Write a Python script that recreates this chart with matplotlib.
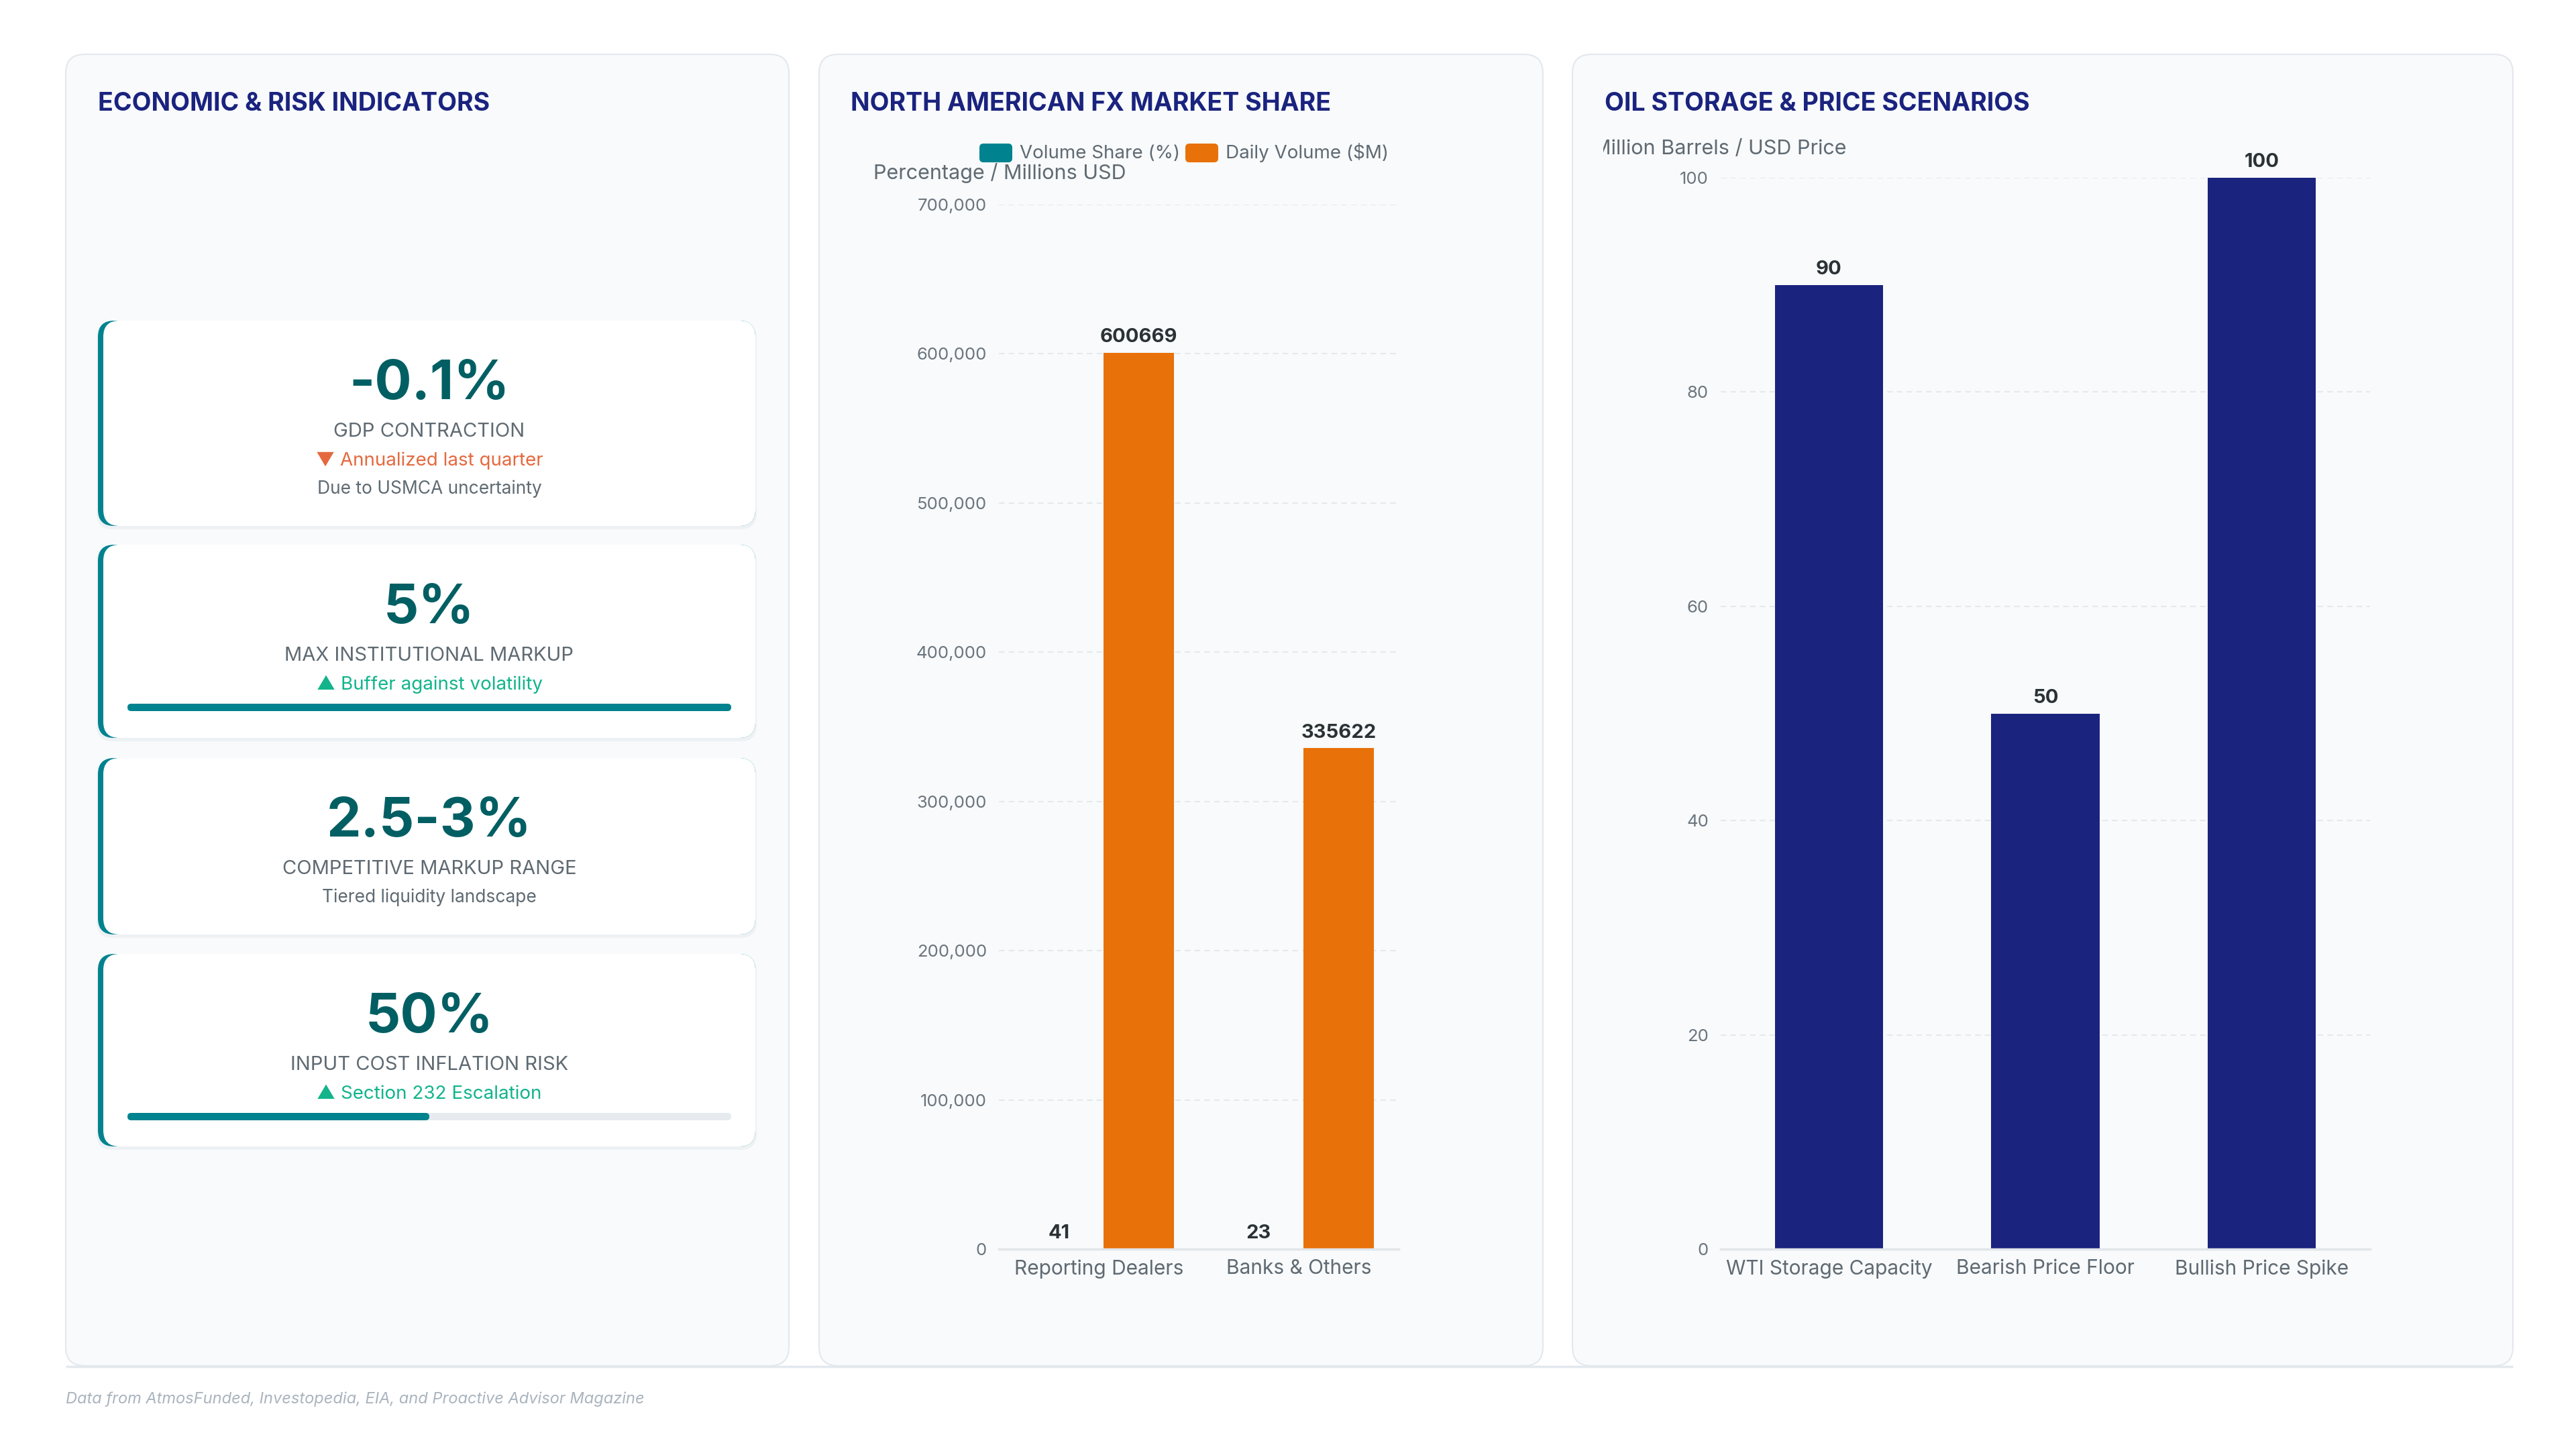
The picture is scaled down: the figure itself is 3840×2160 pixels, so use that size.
import matplotlib

matplotlib.use("Agg")
import matplotlib.pyplot as plt
from matplotlib.patches import FancyBboxPatch
from matplotlib.ticker import FuncFormatter
from matplotlib.transforms import Bbox
import numpy as np

plt.rcParams["font.family"] = ["Inter", "DejaVu Sans"]

# ---- data -----------------------------------------------------------------
KPI_VALUES = ["-0.1%", "5%", "2.5-3%", "50%"]
KPI_LABELS = ["GDP CONTRACTION", "MAX INSTITUTIONAL MARKUP",
              "COMPETITIVE MARKUP RANGE", "INPUT COST INFLATION RISK"]
KPI_NOTES = ["▼ Annualized last quarter", "▲ Buffer against volatility",
             None, "▲ Section 232 Escalation"]
KPI_NOTE_UP = [False, True, None, True]
KPI_SUBS = ["Due to USMCA uncertainty", None, "Tiered liquidity landscape", None]
KPI_PROGRESS = [None, 100, None, 50]

FX_CATEGORIES = ["Reporting Dealers", "Banks & Others"]
FX_SHARE = [41, 23]
FX_VOLUME = [600669, 335622]
FX_SERIES = ["Volume Share (%)", "Daily Volume ($M)"]

OIL_CATEGORIES = ["WTI Storage Capacity", "Bearish Price Floor", "Bullish Price Spike"]
OIL_VALUES = [90, 50, 100]

SOURCE = "Data from AtmosFunded, Investopedia, EIA, and Proactive Advisor Magazine"

# ---- style ----------------------------------------------------------------
W, H = 3840, 2160
NAVY = "#1a237e"
TEAL = "#00838f"
DARK_TEAL = "#015f63"
ORANGE = "#e8710a"
PANEL_BG = "#f8fafc"
BORDER = "#e3e8ee"
GRAY = "#5f6a72"
TICK_GRAY = "#6b757d"
RED = "#e4693f"
GREEN = "#12b48c"
VALUE_DARK = "#2b3236"


def rbox(ax, x0, y0, x1, y1, r, **kw):
    ax.add_patch(FancyBboxPatch((x0, y0), x1 - x0, y1 - y0,
                                boxstyle=f"round,pad=0,rounding_size={r}", **kw))


def fig_axes(fig, x0, y0, x1, y1):
    """Axes from a pixel box (top-left origin)."""
    return fig.add_axes([x0 / W, (H - y1) / H, (x1 - x0) / W, (y1 - y0) / H])


def style_axes(ax):
    ax.set_facecolor("none")
    for side in ("top", "right", "left"):
        ax.spines[side].set_visible(False)
    ax.spines["bottom"].set_color("#e2e6ea")
    ax.spines["bottom"].set_linewidth(2.5)
    ax.yaxis.grid(True, color="#e6e9ec", ls=(0, (4, 3)), lw=1.5)
    ax.set_axisbelow(True)
    ax.tick_params(axis="y", length=0, pad=13, labelsize=18.5, labelcolor=TICK_GRAY)
    ax.tick_params(axis="x", length=0, pad=11, labelsize=21.5, labelcolor=GRAY)


fig = plt.figure(figsize=(W / 100, H / 100), dpi=100, facecolor="white")
bg = fig.add_axes([0, 0, 1, 1])
bg.set_xlim(0, W)
bg.set_ylim(H, 0)
bg.axis("off")

# panels
panels = [(98, 81, 1176, 2036), (1221, 81, 2300, 2036), (2344, 81, 3746, 2036)]
for x0, y0, x1, y1 in panels:
    rbox(bg, x0, y0, x1, y1, 28, facecolor=PANEL_BG, edgecolor=BORDER, lw=1.5)
bg.plot([98, 3746], [2037, 2037], color=BORDER, lw=2.5, solid_capstyle="butt")

titles = ["ECONOMIC & RISK INDICATORS", "NORTH AMERICAN FX MARKET SHARE",
          "OIL STORAGE & PRICE SCENARIOS"]
for title, tx in zip(titles, [146, 1268, 2392]):
    bg.text(tx, 165, title, fontsize=27, weight="bold", color=NAVY, va="baseline")

# ---- KPI cards ------------------------------------------------------------
card_tops = [478, 812, 1130, 1422]
card_bottoms = [784, 1100, 1393, 1709]
cx0, cx1, cmid = 146, 1126, 640
for i, (top, bot) in enumerate(zip(card_tops, card_bottoms)):
    rbox(bg, cx0 - 2, top + 3, cx1 + 2, bot + 5, 24, facecolor="#eef1f4", lw=0)
    rbox(bg, cx0, top, cx1, bot, 24, facecolor=TEAL, lw=0)
    rbox(bg, cx0 + 8, top, cx1, bot, 24, facecolor="white", lw=0)
    bg.text(cmid, top + 117, KPI_VALUES[i], fontsize=59, weight="bold",
            color=DARK_TEAL, ha="center", va="baseline")
    bg.text(cmid, top + 173, KPI_LABELS[i], fontsize=21, color=GRAY,
            ha="center", va="baseline")
    y = top + 173
    if KPI_NOTES[i]:
        y += 43
        bg.text(cmid, y, KPI_NOTES[i], fontsize=20,
                color=GREEN if KPI_NOTE_UP[i] else RED, ha="center", va="baseline")
    if KPI_SUBS[i]:
        y += 42
        bg.text(cmid, y, KPI_SUBS[i], fontsize=19, color=GRAY,
                ha="center", va="baseline")
    if KPI_PROGRESS[i] is not None:
        by = top + 237
        rbox(bg, 190, by, 1090, by + 11, 5.5, facecolor="#e6ebf0", lw=0)
        rbox(bg, 190, by, 190 + 900 * KPI_PROGRESS[i] / 100, by + 11, 5.5,
             facecolor=TEAL, lw=0)

# ---- FX chart -------------------------------------------------------------
for (sx, tx), label, col in zip([(1460, 1520), (1767, 1827)], FX_SERIES, [TEAL, ORANGE]):
    rbox(bg, sx, 214, sx + 49, 242, 6, facecolor=col, lw=0)
    bg.text(tx, 236, label, fontsize=20, color=GRAY, va="baseline")
bg.text(1302, 267, "Percentage / Millions USD", fontsize=22, color=GRAY, va="baseline")

ax2 = fig_axes(fig, 1489, 305, 2085, 1862)
style_axes(ax2)
x = np.arange(len(FX_CATEGORIES))
b1 = ax2.bar(x - 0.2, FX_SHARE, width=0.35, color=TEAL)
b2 = ax2.bar(x + 0.2, FX_VOLUME, width=0.35, color=ORANGE)
for bars in (b1, b2):
    ax2.bar_label(bars, padding=7, fontsize=21, weight="bold", color=VALUE_DARK)
ax2.set_xlim(-0.5, len(FX_CATEGORIES) - 0.5)
ax2.set_ylim(0, 700000)
ax2.set_yticks(np.arange(0, 700001, 100000))
ax2.yaxis.set_major_formatter(FuncFormatter(lambda v, _: f"{v:,.0f}"))
ax2.set_xticks(x, FX_CATEGORIES)

# ---- oil chart ------------------------------------------------------------
# axis title runs past the panel's left padding and is cut off there
t = bg.text(2753, 230, "Million Barrels / USD Price", fontsize=22, color=GRAY,
            ha="right", va="baseline")
t.set_clip_box(bg.transAxes.transform_bbox(Bbox.from_extents(2390 / W, 0, 1, 1)))
t.set_clip_on(True)

ax3 = fig_axes(fig, 2565, 265, 3533, 1862)
style_axes(ax3)
x3 = np.arange(len(OIL_CATEGORIES))
b3 = ax3.bar(x3, OIL_VALUES, width=0.5, color=NAVY)
ax3.bar_label(b3, padding=7, fontsize=21, weight="bold", color=VALUE_DARK)
ax3.set_xlim(-0.5, len(OIL_CATEGORIES) - 0.5)
ax3.set_ylim(0, 100)
ax3.set_yticks(np.arange(0, 101, 20))
ax3.set_xticks(x3, OIL_CATEGORIES)

# footer
bg.text(98, 2092, SOURCE, fontsize=17, style="italic", color="#aab4be", va="baseline")

fig.savefig("out.png", dpi=100, facecolor="white")
